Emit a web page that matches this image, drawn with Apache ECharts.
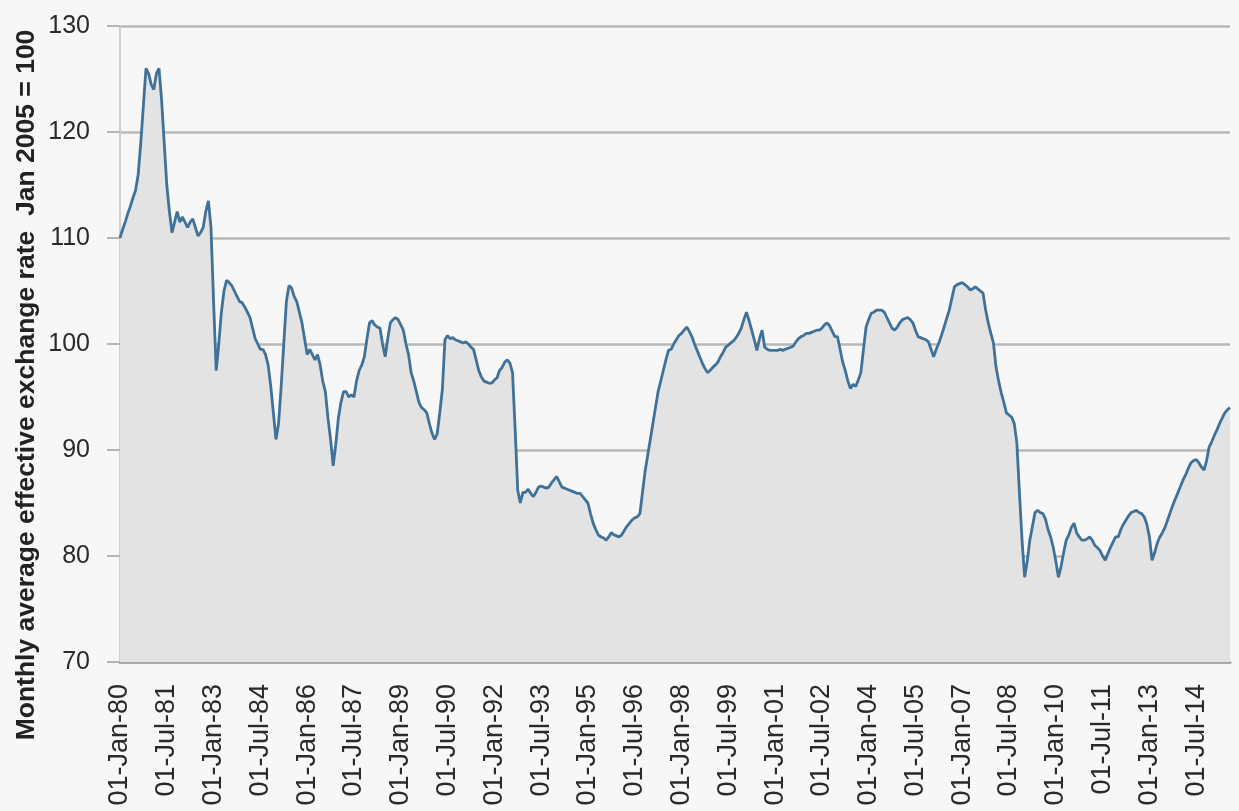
<!DOCTYPE html>
<html>
<head>
<meta charset="utf-8">
<script src="https://cdn.jsdelivr.net/npm/echarts@6/dist/echarts.min.js"></script>
<style>
html,body{margin:0;padding:0;background:#f7f7f7;}
#c{width:1239px;height:811px;}
</style>
</head>
<body>
<div id="c"></div>
<script>
// Monthly values, Jan 1980 .. Aug 2015 (index, Jan 2005 = 100)
var values1980s = [
  110, 110.8, 111.5, 112.3, 113, 113.8, 114.5, 116, 119, 122.5, 126, 125.5,
  124.5, 124, 125.5, 126, 123, 119, 115, 112.5, 110.5, 111.5, 112.5, 111.5,
  112, 111.5, 111, 111.5, 111.8, 111, 110.2, 110.5, 111, 112.5, 113.5, 111,
  104, 97.5, 100, 103, 105, 106, 105.8, 105.5, 105, 104.5, 104, 103.9,
  103.5, 103, 102.5, 101.5, 100.5, 100, 99.5, 99.5, 99, 98, 96, 93.5,
  91, 92.5, 96, 100, 104, 105.5, 105.3, 104.5, 104, 103, 102, 100.5,
  99, 99.5, 99, 98.5, 99, 98, 96.5, 95.5, 93, 91, 88.5, 90.5,
  93, 94.5, 95.5, 95.5, 95, 95.2, 95, 96.5, 97.5, 98, 98.8, 100.5,
  102, 102.2, 101.8, 101.6, 101.5, 100, 98.8, 100.5, 102, 102.3, 102.5, 102.3,
  101.8, 101.3, 100, 99, 97.3, 96.5, 95.5, 94.5, 94, 93.8, 93.5, 92.5
];
var values1990s = [
  91.6, 91, 91.5, 93.5, 95.7, 100.4, 100.8, 100.5, 100.6, 100.4, 100.3, 100.2,
  100.1, 100.2, 100, 99.7, 99.5, 98.5, 97.5, 96.9, 96.5, 96.4, 96.3, 96.3,
  96.6, 96.8, 97.5, 97.8, 98.3, 98.5, 98.2, 97.3, 92, 86.2, 85, 86,
  86, 86.3, 85.9, 85.6, 86, 86.5, 86.6, 86.5, 86.4, 86.5, 86.9, 87.2,
  87.5, 87, 86.5, 86.4, 86.3, 86.2, 86.1, 86, 85.9, 85.9, 85.6, 85.3,
  85, 84, 83.1, 82.5, 82, 81.8, 81.7, 81.5, 81.8, 82.2, 82, 81.9,
  81.8, 82, 82.4, 82.8, 83.1, 83.4, 83.6, 83.7, 84, 86, 88, 89.5,
  91, 92.5, 94, 95.5, 96.5, 97.5, 98.5, 99.4, 99.5, 100, 100.4, 100.8,
  101, 101.3, 101.6, 101.2, 100.7, 100, 99.4, 98.8, 98.2, 97.7, 97.3, 97.5,
  97.8, 98, 98.3, 98.8, 99.2, 99.7, 99.9, 100.1, 100.3, 100.6, 101, 101.5
];
var values2000s = [
  102.3, 103, 102.2, 101.3, 100.4, 99.4, 100.5, 101.3, 99.7, 99.5, 99.4, 99.4,
  99.4, 99.4, 99.5, 99.4, 99.5, 99.6, 99.7, 99.8, 100.2, 100.5, 100.7, 100.8,
  101, 101, 101.1, 101.2, 101.3, 101.3, 101.5, 101.8, 102, 101.7, 101.2, 100.7,
  100.7, 99.5, 98.3, 97.5, 96.5, 95.8, 96.2, 96, 96.6, 97.3, 99.5, 101.6,
  102.3, 102.9, 103, 103.2, 103.2, 103.2, 103, 102.5, 102, 101.5, 101.3, 101.6,
  102, 102.3, 102.4, 102.5, 102.3, 102, 101.3, 100.7, 100.6, 100.5, 100.4, 100.2,
  99.5, 98.8, 99.5, 100.1, 100.8, 101.6, 102.4, 103.2, 104.3, 105.4, 105.6, 105.7,
  105.8, 105.6, 105.4, 105.1, 105.2, 105.4, 105.2, 105, 104.8, 103.2, 102, 101,
  100.1, 97.8, 96.5, 95.4, 94.5, 93.5, 93.3, 93.1, 92.5, 90.7, 86, 81.5,
  78, 79.5, 81.5, 82.8, 84.1, 84.3, 84.1, 84, 83.5, 82.5, 81.8, 80.8
];
var values2010s = [
  79.5, 78, 79, 80.3, 81.5, 82, 82.7, 83.1, 82.2, 81.8, 81.5, 81.5,
  81.6, 81.8, 81.5, 81, 80.8, 80.5, 80, 79.6, 80.2, 80.8, 81.3, 81.8,
  81.8, 82.5, 83, 83.4, 83.8, 84.1, 84.2, 84.3, 84.1, 84, 83.7, 83,
  81.8, 79.6, 80.3, 81.2, 81.8, 82.2, 82.7, 83.4, 84.1, 84.8, 85.4, 86,
  86.6, 87.2, 87.7, 88.3, 88.8, 89, 89.1, 88.8, 88.4, 88.1, 89, 90.3,
  90.8, 91.4, 91.9, 92.5, 93, 93.5, 93.8, 94
];
var monthNames = ['Jan','Feb','Mar','Apr','May','Jun','Jul','Aug','Sep','Oct','Nov','Dec'];
var yTicks = [70, 80, 90, 100, 110, 120, 130];
var yAxisTitle = 'Monthly average effective exchange rate  Jan 2005 = 100';

var values = values1980s.concat(values1990s, values2000s, values2010s);
var categories = [];
for (var i = 0; i < values.length; i++) {
  var y = 1980 + Math.floor(i / 12);
  var yy = String(y % 100);
  if (yy.length < 2) yy = '0' + yy;
  categories.push('01-' + monthNames[i % 12] + '-' + yy);
}

var chart = echarts.init(document.getElementById('c'), null, {renderer: 'canvas'});
chart.setOption({
  backgroundColor: '#f7f7f7',
  animation: false,
  grid: {left: 120, right: 9, top: 26, bottom: 149, containLabel: false},
  xAxis: {
    type: 'category',
    data: categories,
    boundaryGap: false,
    axisLine: {show: true, lineStyle: {color: '#a9a9a9', width: 3}},
    axisTick: {show: false},
    axisLabel: {
      interval: 17,
      rotate: 90,
      margin: 22,
      fontSize: 27,
      fontFamily: 'Liberation Sans Narrow, Liberation Sans, sans-serif',
      color: '#2a2a2a'
    },
    splitLine: {show: false}
  },
  yAxis: {
    type: 'value',
    min: yTicks[0],
    max: yTicks[yTicks.length - 1],
    interval: 10,
    axisLine: {show: true, lineStyle: {color: '#cfcfcf', width: 2}},
    axisTick: {show: true, length: 13, lineStyle: {color: '#b5b5b5', width: 2}},
    axisLabel: {
      margin: 30,
      fontSize: 25,
      fontFamily: 'Liberation Sans Narrow, Liberation Sans, sans-serif',
      color: '#2a2a2a'
    },
    splitLine: {show: true, lineStyle: {color: '#b8b8b8', width: 2.5}}
  },
  graphic: [{
    type: 'text',
    x: 27,
    y: 385,
    rotation: Math.PI / 2,
    style: {
      text: yAxisTitle,
      fontSize: 26.5,
      fontWeight: 'bold',
      fontFamily: 'Liberation Sans Narrow, Liberation Sans, sans-serif',
      fill: '#222',
      align: 'center',
      verticalAlign: 'middle'
    }
  }],
  series: [{
    type: 'line',
    data: values,
    symbol: 'none',
    smooth: false,
    lineStyle: {color: '#3f7199', width: 2.8},
    areaStyle: {color: '#e3e3e3', opacity: 1, origin: 'start'},
    z: 3
  }]
});
</script>
</body>
</html>
